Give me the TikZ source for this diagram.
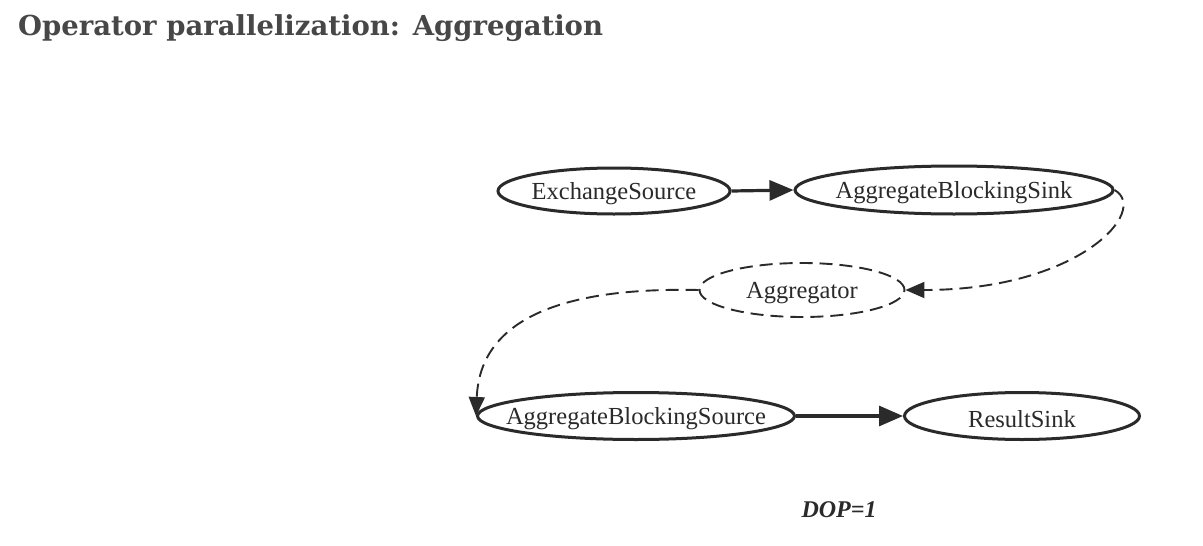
\documentclass[tikz,border=0pt]{standalone}
\usepackage{fontspec}
\setmainfont{Liberation Serif}
\newfontfamily\titlefont{DejaVu Serif}
\usetikzlibrary{shapes.geometric,arrows.meta}
\definecolor{titlegray}{HTML}{474747}
\definecolor{inkgray}{HTML}{2A2A2A}
\tikzset{
  nodetext/.style={text=inkgray, font=\fontsize{24.5}{27}\selectfont, yshift=-3pt},
  opnode/.style={ellipse, draw=inkgray, line width=3pt, inner sep=0pt},
  dashnode/.style={ellipse, draw=inkgray, line width=1.9pt, inner sep=0pt,
    dash pattern=on 13pt off 7pt},
  flow/.style={draw=inkgray, line width=3.2pt,
    -{Triangle[length=24pt,width=20pt]}},
  dflow/.style={draw=inkgray, line width=1.9pt, dash pattern=on 13pt off 7pt,
    -{Triangle[length=19pt,width=16pt]}}
}
\begin{document}
\begin{tikzpicture}[x=1pt,y=-1pt]
\useasboundingbox (0,0) rectangle (1203,546);
\fill[white] (0,0) rectangle (1203,546);
\node[anchor=base west, inner sep=0pt, text=titlegray, font=\titlefont\fontsize{27.5}{30}\selectfont\bfseries] (title) at (18,35) {Operator parallelization: Aggregation};

\node[opnode, minimum width=232pt, minimum height=46pt] (es) at (614,191) {};
\node[nodetext] (est) at (es) {ExchangeSource};
\node[opnode, minimum width=318pt, minimum height=48pt] (abs) at (954,190) {};
\node[nodetext] (abst) at (abs) {AggregateBlockingSink};
\node[dashnode, minimum width=205pt, minimum height=54pt] (agg) at (802,290) {};
\node[nodetext] (aggt) at (agg) {Aggregator};
\node[opnode, minimum width=317pt, minimum height=47pt] (abso) at (636,416) {};
\node[nodetext] (absot) at (abso) {AggregateBlockingSource};
\node[opnode, minimum width=235pt, minimum height=47pt] (rs) at (1022,416) {};
\node[nodetext] (rst) at (rs) {ResultSink};

\draw[flow] (es.east) -- (abs.west);
\draw[flow] (abso.east) -- (rs.west);
\draw[dflow] (abs.east) .. controls (1150,210) and (1080,290) .. (agg.east);
\draw[dflow] (agg.west) .. controls (560,287) and (480,320) .. (abso.west);

\node[text=inkgray, font=\fontsize{24}{26}\selectfont\bfseries\itshape] (dop) at (839,510) {DOP=1};
\end{tikzpicture}
\end{document}
